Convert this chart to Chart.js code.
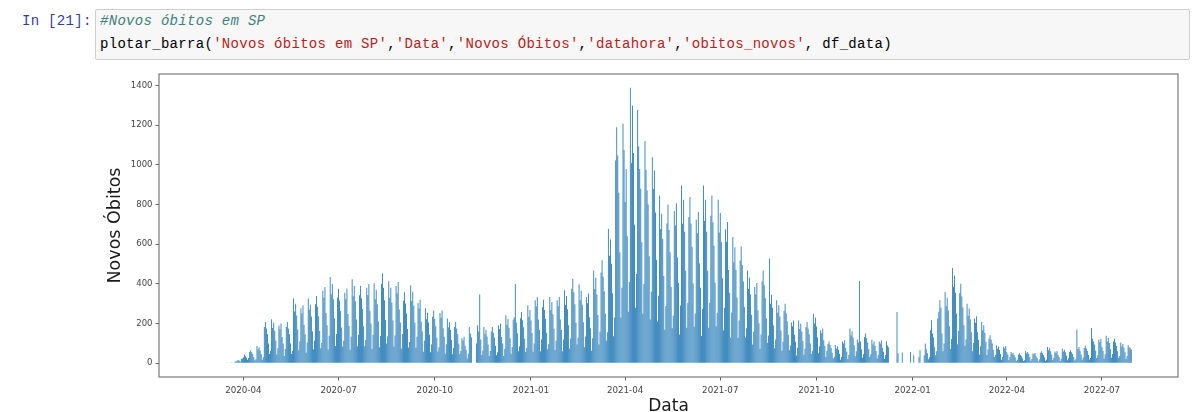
<!DOCTYPE html>
<html lang="pt-BR">
<head>
<meta charset="utf-8">
<title>Novos óbitos em SP</title>
<script src="https://cdn.jsdelivr.net/npm/chart.js@4.4.1/dist/chart.umd.min.js"></script>
<style>
  html, body { margin: 0; padding: 0; background: #fff; width: 1203px; height: 412px; overflow: hidden; }
  #prompt {
    position: absolute; left: 22px; top: 10px;
    font: 14px/23px "Liberation Mono", "DejaVu Sans Mono", monospace;
    letter-spacing: 0.3px;
    color: #303f9f; white-space: pre;
  }
  #cell {
    position: absolute; left: 95px; top: 9px; width: 1093px; height: 49px;
    background: #f7f7f7; border: 1px solid #cfcfcf; border-radius: 2px;
  }
  #code {
    position: absolute; left: 100px; top: 10px; margin: 0;
    font: 14px/23px "Liberation Mono", "DejaVu Sans Mono", monospace;
    letter-spacing: 0.3px;
    color: #000; white-space: pre;
  }
  #code .c { color: #408080; font-style: italic; }
  #code .s { color: #ba2121; }
  #plot { position: absolute; left: 0; top: 0; }
</style>
</head>
<body>
<div id="cell"></div>
<div id="prompt">In [21]:</div>
<pre id="code"><span class="c">#Novos óbitos em SP</span>
plotar_barra(<span class="s">'Novos óbitos em SP'</span>,<span class="s">'Data'</span>,<span class="s">'Novos Óbitos'</span>,<span class="s">'datahora'</span>,<span class="s">'obitos_novos'</span>, df_data)</pre>
<canvas id="plot" width="1203" height="430"></canvas>
<script>
// Daily new deaths in the state of São Paulo, one row per week (Tue..Mon),
// starting on 2020-02-25.
const firstDay = '2020-02-25';
const obitosNovos = [
  0,0,0,0,0,0,0,                 // 2020-02-25
  0,0,0,0,0,0,0,
  0,0,0,0,0,0,0,
  1,2,3,1,4,2,3,                 // 2020-03-17
  8,10,13,16,12,9,22,
  24,30,44,35,27,18,26,
  57,65,55,46,31,14,20,
  87,70,80,64,45,18,30,
  183,208,175,146,100,46,62,     // 2020-04-21
  222,178,204,164,115,44,75,
  190,172,200,132,100,36,72,
  183,208,175,146,100,46,62,
  326,261,300,241,170,65,111,
  277,251,292,193,146,53,105,
  326,270,295,236,160,70,115,
  298,339,285,237,163,75,102,
  365,330,384,253,192,69,138,
  435,348,400,322,226,87,148,
  331,376,316,263,180,83,113,    // 2020-06-30
  356,323,375,248,188,68,135,
  423,338,389,313,220,85,144,
  343,390,328,273,187,86,117,
  380,344,400,264,200,72,144,
  403,322,371,298,210,81,137,
  400,454,381,318,218,100,136,
  413,330,380,306,215,83,140,
  390,353,410,271,205,74,148,
  315,358,301,251,172,79,107,    // 2020-09-01
  392,314,361,290,204,78,133,
  304,275,320,211,160,58,115,
  277,222,255,205,144,55,94,
  234,266,223,186,128,59,80,
  253,229,266,176,133,48,96,
  225,180,207,167,117,45,77,
  183,208,175,146,100,46,62,
  126,114,133,88,67,24,48,
  183,150,130,0,0,0,0,           // 2020-11-03
  100,191,160,347,120,42,64,
  183,146,168,135,95,37,62,
  161,183,154,128,88,40,55,
  190,172,200,132,100,36,72,
  242,194,223,179,126,48,82,
  220,232,400,205,150,60,85,
  227,258,217,181,124,57,77,
  292,234,269,216,152,58,99,
  317,287,334,220,167,60,120,    // 2021-01-05
  282,320,269,224,154,70,96,
  334,267,307,247,174,67,114,
  317,287,334,220,167,60,120,
  368,294,339,272,191,74,125,
  375,426,358,298,204,94,128,
  398,318,366,295,207,80,135,
  333,302,351,232,176,63,126,
  468,374,431,346,243,94,159,
  457,519,436,363,249,114,156,   // 2021-03-02
  678,542,624,502,353,136,231,
  1022,1190,1047,860,560,230,380,
  1207,1075,813,980,640,260,410,
  1389,1010,1299,1060,700,280,450, // 2021-04-06
  1277,1093,980,880,610,250,400,
  1120,976,871,800,540,220,360,
  1039,879,972,760,520,210,340,
  846,677,754,626,440,169,288,
  704,800,672,560,384,176,240,
  767,694,807,533,404,145,291,
  896,703,824,663,466,179,305,
  737,838,704,587,402,184,251,
  724,655,762,503,381,137,274,
  896,717,824,663,466,179,305,   // 2021-06-29
  744,846,711,592,406,186,254,
  824,659,758,610,428,165,280,
  676,612,712,470,356,128,256,
  636,509,585,471,331,127,216,
  518,589,495,412,283,130,177,
  468,374,431,346,243,94,159,
  384,347,404,267,202,73,145,
  412,468,393,328,225,103,140,
  527,300,345,280,190,75,120,    // 2021-08-24
  317,254,292,235,165,63,108,
  264,300,252,210,144,66,90,
  205,186,216,143,108,39,78,
  216,173,199,160,112,43,73,
  183,208,175,146,100,46,62,
  250,200,230,185,130,50,85,
  166,151,175,116,88,32,63,
  97,110,92,77,53,24,33,
  92,74,85,68,48,18,31,          // 2021-10-26
  110,100,116,77,58,21,42,
  175,140,161,130,91,35,60,
  120,105,415,110,70,28,45,
  132,150,126,105,72,33,45,
  119,95,109,88,62,24,40,
  110,100,116,77,58,21,42,
  111,90,80,0,0,0,0,
  0,0,0,258,49,0,0,
  0,54,0,0,0,0,0,                // 2021-12-21
  0,0,57,0,0,40,0,
  0,0,0,30,65,0,0,
  0,40,99,70,50,20,30,
  166,217,150,130,80,40,60,
  225,260,317,280,150,60,100,
  359,287,330,266,187,72,122,
  480,384,442,355,250,96,163,    // 2022-02-01
  353,401,337,281,192,88,120,
  300,240,276,222,156,60,102,
  225,204,237,156,119,43,85,
  208,166,191,154,108,42,71,
  124,141,118,99,68,31,42,
  91,73,84,67,47,18,31,
  83,75,87,57,44,16,31,
  57,46,52,42,30,11,19,
  44,50,42,35,24,11,15,          // 2022-04-05
  62,50,57,46,32,12,21,
  49,45,52,34,26,9,19,
  53,60,50,42,29,13,18,
  82,66,75,61,43,16,28,
  59,53,62,41,31,11,22,
  74,59,68,55,38,15,25,
  57,65,55,46,31,14,20,
  170,72,82,63,44,17,29,         // 2022-05-31
  77,88,74,62,42,19,26,
  178,124,110,95,64,26,40,
  118,107,124,82,62,22,45,
  138,110,127,102,72,28,47,
  109,124,104,87,60,27,37,
  105,84,97,78,55,21,36,
  91,80,75,68                    // 2022-07-26
];

const xTickLabels = ['2020-04','2020-07','2020-10','2021-01','2021-04','2021-07','2021-10','2022-01','2022-04','2022-07'];
const yTickValues = [0, 200, 400, 600, 800, 1000, 1200, 1400];

const DAY_MS = 86400000;
const t0 = Date.parse(firstDay + 'T00:00:00Z');
const dayIndex = (ym) => (Date.parse(ym + '-01T00:00:00Z') - t0) / DAY_MS;

const points = obitosNovos.map((v, i) => ({ x: i, y: v }));

// autoscale limits with 5% margins, bars 0.8 day wide
const barWidth = 0.8;
const xLo = -barWidth / 2, xHi = obitosNovos.length - 1 + barWidth / 2;
const xPad = 0.05 * (xHi - xLo);
const yMax = Math.max(...obitosNovos);

// plain rectangle around the plotting area
const axesFrame = {
  id: 'axesFrame',
  afterDraw(chart) {
    const { ctx, chartArea: a } = chart;
    ctx.save();
    ctx.strokeStyle = '#7a7a7a';
    ctx.lineWidth = 1.2;
    ctx.strokeRect(a.left, a.top, a.right - a.left, a.bottom - a.top);
    ctx.restore();
  }
};

const tickFont = { family: '"DejaVu Sans", sans-serif', size: 8.5 };
const titleFont = { family: '"DejaVu Sans", sans-serif', size: 17.5 };

new Chart(document.getElementById('plot'), {
  type: 'bar',
  data: {
    datasets: [{
      label: 'obitos_novos',
      data: points,
      backgroundColor: '#1f77b4',
      borderWidth: 0,
      inflateAmount: 0,
      categoryPercentage: 1,
      barPercentage: barWidth
    }]
  },
  options: {
    responsive: false,
    animation: false,
    events: [],
    layout: { padding: { left: 0, top: 74, right: 25, bottom: 0 } },
    plugins: { legend: { display: false }, tooltip: { enabled: false } },
    scales: {
      x: {
        type: 'linear',
        offset: false,
        min: xLo - xPad,
        max: xHi + xPad,
        afterFit: (s) => { s.height = 53; },
        afterBuildTicks: (s) => { s.ticks = xTickLabels.map(l => ({ value: dayIndex(l) })); },
        grid: { offset: false, drawOnChartArea: false, drawTicks: true, tickLength: 3.5, color: '#555', lineWidth: 0.9 },
        border: { display: false },
        ticks: {
          autoSkip: false, maxRotation: 0, padding: 5,
          color: '#444', font: { family: tickFont.family, size: 8.7 },
          callback: (v, i) => xTickLabels[i]
        },
        title: { display: true, text: 'Data', color: '#1a1a1a', font: { family: titleFont.family, size: 17 }, padding: { top: 0, bottom: 12.8 } }
      },
      y: {
        min: -0.05 * yMax,
        max: 1.05 * yMax,
        afterFit: (s) => { s.width = 159; },
        afterBuildTicks: (s) => { s.ticks = yTickValues.map(v => ({ value: v })); },
        grid: { drawOnChartArea: false, drawTicks: true, tickLength: 3.5, color: '#555', lineWidth: 0.9 },
        border: { display: false },
        ticks: { padding: 3, color: '#444', font: tickFont, callback: (v) => String(v) },
        title: { display: true, text: 'Novos Óbitos', color: '#1a1a1a', font: titleFont, padding: { top: 104.5, bottom: 0 } }
      }
    }
  },
  plugins: [axesFrame]
});
</script>
</body>
</html>
